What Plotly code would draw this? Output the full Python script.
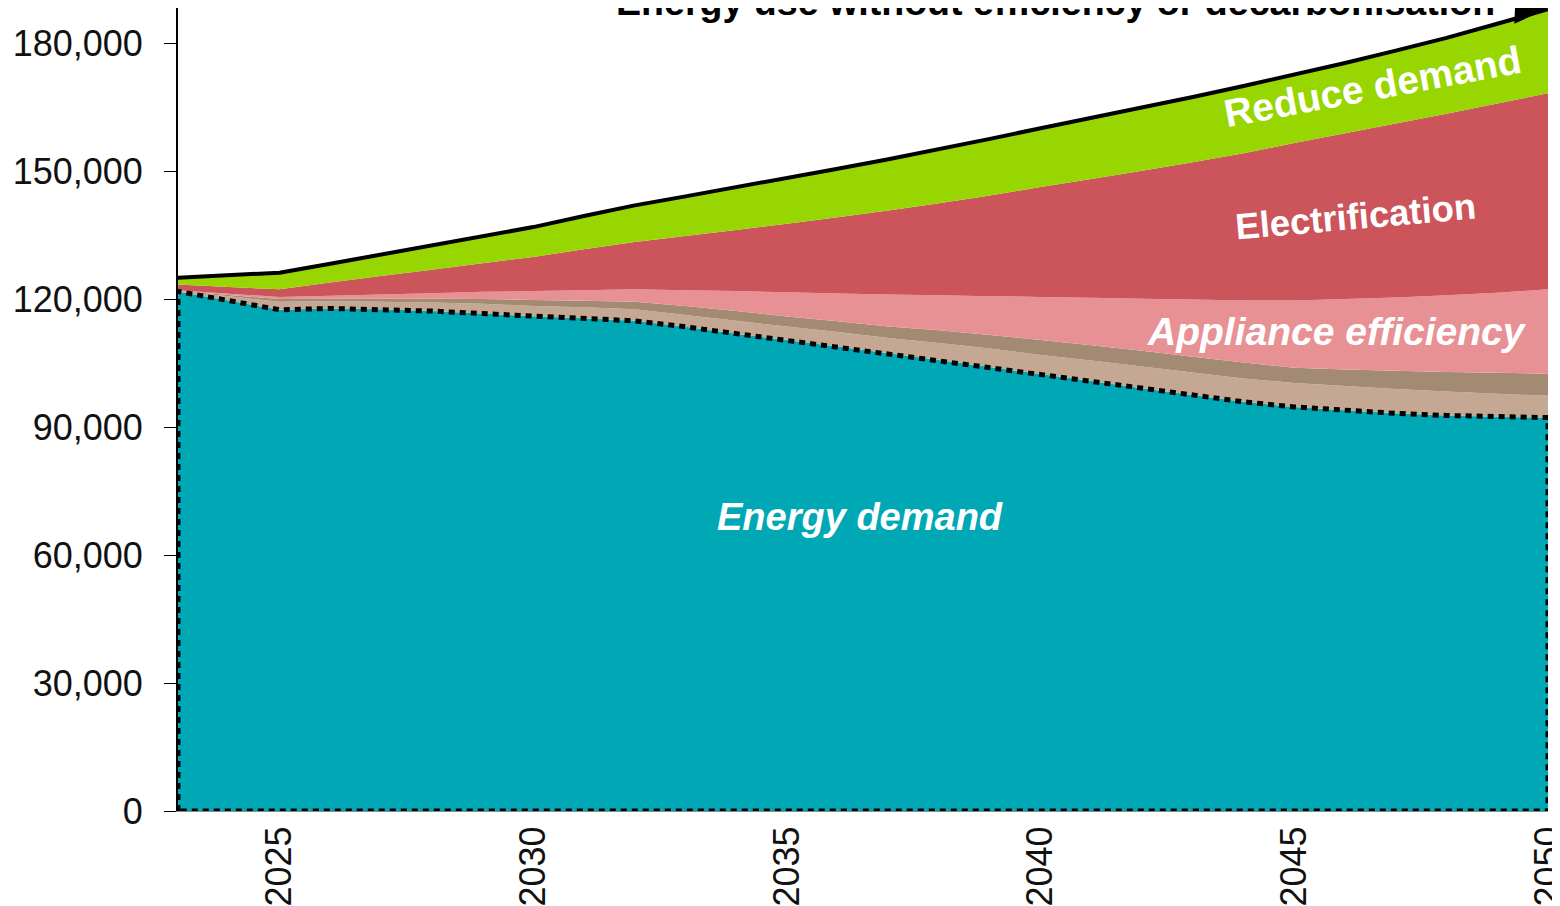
"""Stacked area: energy demand pathway with efficiency and decarbonisation wedges."""

import plotly.graph_objects as go

FONT = "Liberation Sans"

years = list(range(2023, 2051))

# Layer thicknesses (GWh), bottom to top
energy_demand = [121900, 119750, 117600, 117900, 117700, 117300, 116700, 116100, 115600, 115000,
                 113600, 112000, 110500, 109000, 107400, 105800, 104200, 102500, 100900, 99200,
                 97600, 96000, 94800, 94000, 93300, 92800, 92500, 92300]
fabric_efficiency = [50, 1000, 1900, 1700, 1800, 2000, 2300, 2400, 2600, 2700,
                     2800, 3000, 3200, 3400, 3600, 4000, 4300, 4500, 4800, 5100,
                     5300, 5500, 5600, 5700, 5700, 5600, 5400, 5100]
heating_efficiency = [50, 300, 600, 600, 700, 900, 1100, 1400, 1500, 1800,
                      2100, 2300, 2300, 2500, 2700, 3000, 3200, 3500, 3600, 3700,
                      3700, 3700, 3600, 3900, 4300, 4600, 4900, 5200]
appliance_efficiency = [150, 300, 500, 700, 1000, 1300, 1700, 2100, 2500, 2900,
                        3700, 4700, 5700, 6500, 7500, 8200, 9100, 10100, 11100, 12200,
                        13400, 14600, 15800, 16500, 17200, 18000, 18800, 19800]
electrification = [1350, 1600, 1800, 3100, 4300, 5500, 6700, 8000, 9600, 11100,
                   12700, 14300, 16100, 17900, 19700, 21600, 23600, 25800, 27900, 30000,
                   32200, 34500, 36900, 38900, 40800, 42600, 44400, 46000]
reduce_demand = [1600, 2750, 3900, 4400, 5100, 5700, 6400, 7000, 7800, 8600,
                 9300, 10000, 10700, 11400, 12000, 12600, 13300, 13800, 14300, 14800,
                 15300, 15800, 16000, 16500, 17100, 17800, 18700, 19700]

layers = [
    ("Energy demand", energy_demand, "#00A8B6"),
    ("Fabric efficiency", fabric_efficiency, "#C5A893"),
    ("Heating efficiency", heating_efficiency, "#A38A72"),
    ("Appliance efficiency", appliance_efficiency, "#E89195"),
    ("Electrification", electrification, "#CC545B"),
    ("Reduce demand", reduce_demand, "#97D600"),
]

fig = go.Figure()
for name, vals, color in layers:
    fig.add_trace(go.Scatter(
        x=years, y=vals, name=name, stackgroup="one", mode="none",
        fillcolor=color, line=dict(width=0), hoverinfo="skip",
    ))

# outline of the energy demand area (dashed) and unabated total (solid)
total = [sum(v) for v in zip(*[l[1] for l in layers])]
fig.add_trace(go.Scatter(
    x=[years[0]] + years + [years[-1], years[0]],
    y=[0] + energy_demand + [0, 0],
    mode="lines", line=dict(color="black", width=5, dash="6px,5px"),
    hoverinfo="skip", cliponaxis=False,
))
fig.add_trace(go.Scatter(
    x=years, y=total, mode="lines", line=dict(color="black", width=4),
    hoverinfo="skip", cliponaxis=False,
))

white_bold = dict(family=FONT, size=38, color="white")
fig.add_annotation(x=2036.45, y=69000, text="<b><i>Energy demand</i></b>",
                   showarrow=False, font=white_bold)
fig.add_annotation(x=2045.85, y=112600, text="<b><i>Appliance efficiency</i></b>",
                   showarrow=False, font=dict(white_bold, size=39))
fig.add_annotation(x=2046.2, y=139400, text="<b>Electrification</b>",
                   showarrow=False, font=dict(white_bold, size=36.5), textangle=-5)
fig.add_annotation(x=2046.55, y=169900, text="<b>Reduce demand</b>",
                   showarrow=False, font=dict(white_bold, size=39), textangle=-10.5)
fig.add_annotation(x=2040.3, y=1.007, yref="paper", yanchor="middle",
                   text="<b>Energy use without efficiency or decarbonisation</b>",
                   showarrow=False, font=dict(family=FONT, size=37.6, color="black"))
fig.add_annotation(x=2049.98, y=1.009, yref="paper", ax=-24, ay=0, showarrow=True,
                   arrowhead=2, arrowsize=3.2, arrowwidth=2, arrowcolor="black", text="")

# page body keeps an 8px margin, so the figure is sized to the remaining window
fig.update_layout(
    width=1552, height=898,
    margin=dict(l=170, r=12, t=0, b=95),
    plot_bgcolor="white", paper_bgcolor="white",
    showlegend=False,
    font=dict(family=FONT, size=36, color="#111111"),
    xaxis=dict(range=[2023, 2050], tickvals=[2025, 2030, 2035, 2040, 2045, 2050],
               tickangle=-90, showgrid=False, zeroline=False, ticks="",
               ticklabeloverflow="allow", automargin=False,
               showline=True, linecolor="#888888", linewidth=1),
    yaxis=dict(range=[0, 188400], tickvals=list(range(0, 180001, 30000)),
               tickformat=",", showgrid=False, zeroline=False, automargin=False,
               ticks="outside", ticklen=12, tickcolor="black", ticklabelstandoff=14,
               showline=True, linecolor="black", linewidth=2),
)

fig.write_html("out.html")
